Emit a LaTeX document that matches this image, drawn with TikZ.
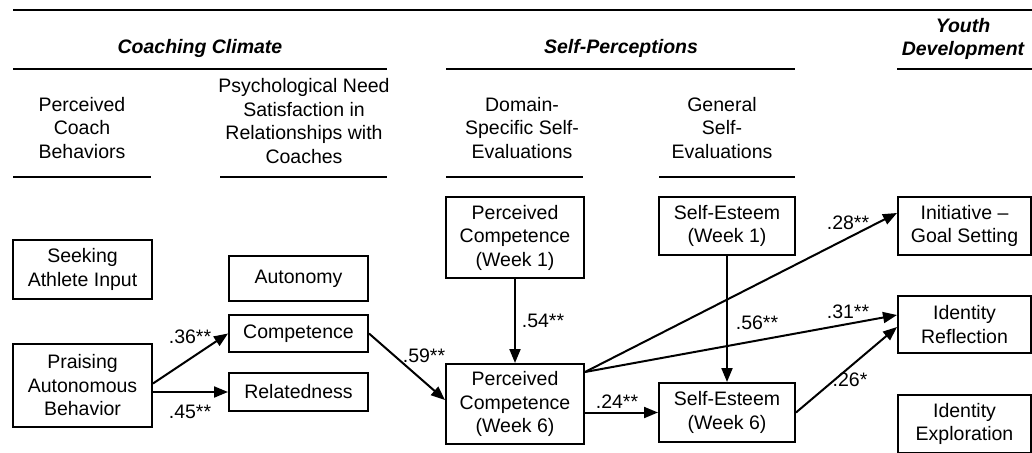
\documentclass[tikz,border=0pt]{standalone}
\usepackage{fontspec}
\setmainfont{Liberation Sans}
\usetikzlibrary{arrows.meta}
\begin{document}
\begin{tikzpicture}[x=1pt,y=-1pt,
  every node/.style={font=\fontsize{19.5}{23.5}\selectfont, align=center, inner sep=0pt},
  box/.style={draw, line width=2pt, minimum width=#1},
  box/.default=139pt,
  rule/.style={line width=2.6pt},
  arr/.style={line width=2pt, -{Triangle[length=14pt,width=11pt]}},
  grp/.style={font=\fontsize{19.5}{23.5}\selectfont\bfseries\itshape},
  coef/.style={font=\fontsize{19.5}{23.5}\selectfont}]
\useasboundingbox (0,0) rectangle (1032,452);
\clip (0,0) rectangle (1032,452);
\fill[white] (0,0) rectangle (1032,452);

% group headings and rules
\draw[rule] (13,10) -- (1040,10);
\node[grp] (hcc) at (200,48) {Coaching Climate};
\node[grp] (hsp) at (621,48) {Self-Perceptions};
\node[grp] (hyd) at (963,39) {Youth\\Development};
\draw[rule] (13,69) -- (387,69);
\draw[rule] (446,69) -- (795,69);
\draw[rule] (897,69) -- (1040,69);

% column headings
\node (c1) at (82,128) {Perceived\\Coach\\Behaviors};
\node (c2) at (304,121) {Psychological Need\\Satisfaction in\\Relationships with\\Coaches};
\node (c3) at (522,128) {Domain-\\Specific Self-\\Evaluations};
\node (c4) at (722,128) {General\\Self-\\Evaluations};
\draw[rule] (13,177) -- (151,177);
\draw[rule] (220,177) -- (387,177);
\draw[rule] (446,177) -- (583,177);
\draw[rule] (659,177) -- (795,177);

% variables
\node[box, minimum height=59pt] (seek) at (82.5,269.5) {Seeking\\Athlete Input};
\node[box, minimum height=83pt] (prais) at (82.5,385.5) {Praising\\Autonomous\\Behavior};
\node[box, minimum height=45pt] (auto) at (298.5,278.5) {Autonomy};
\node[box, minimum height=37pt] (comp) at (298.5,333.5) {Competence};
\node[box, minimum height=38pt] (relat) at (298.5,392) {Relatedness};
\node[box=138pt, minimum height=81pt] (pc1) at (515,237.5) {Perceived\\Competence\\(Week 1)};
\node[box=138pt, minimum height=80pt] (pc6) at (515,404) {Perceived\\Competence\\(Week 6)};
\node[box=136pt, minimum height=58pt] (se1) at (727,226) {Self-Esteem\\(Week 1)};
\node[box=136pt, minimum height=59pt] (se6) at (727,412.5) {Self-Esteem\\(Week 6)};
\node[box=133pt, minimum height=58pt] (init) at (964.5,226) {Initiative --\\Goal Setting};
\node[box=133pt, minimum height=57pt] (idref) at (964.5,324.5) {Identity\\Reflection};
\node[box=133pt, minimum height=58pt] (idexp) at (964.5,424) {Identity\\Exploration};

% paths
\coordinate (pcout) at ([yshift=-9pt]pc6.north east);
\draw[arr] ([yshift=2pt]prais.east) -- (comp.west);
\draw[arr] (prais.east |- relat.west) -- (relat.west);
\draw[arr] (comp.east) -- ([yshift=4pt]pc6.west);
\draw[arr] (pc1.south) -- (pc6.north);
\draw[arr] (se1.south) -- (se6.north);
\draw[arr] (pc6.east |- se6.west) -- (se6.west);
\draw[arr] (pcout) -- ([yshift=13pt]init.west);
\draw[arr] (pcout) -- ([yshift=9.5pt]idref.west);
\draw[arr] (se6.east) -- ([yshift=-2.5pt]idref.west);

% path coefficients
\node[coef] (k36) at (190,337) {.36**};
\node[coef] (k45) at (190,412) {.45**};
\node[coef] (k59) at (424,356) {.59**};
\node[coef] (k54) at (543,321) {.54**};
\node[coef] (k56) at (757,323) {.56**};
\node[coef] (k24) at (617,402) {.24**};
\node[coef] (k28) at (848,223) {.28**};
\node[coef] (k31) at (848,312) {.31**};
\node[coef] (k26) at (850,380) {.26*};
\end{tikzpicture}
\end{document}
